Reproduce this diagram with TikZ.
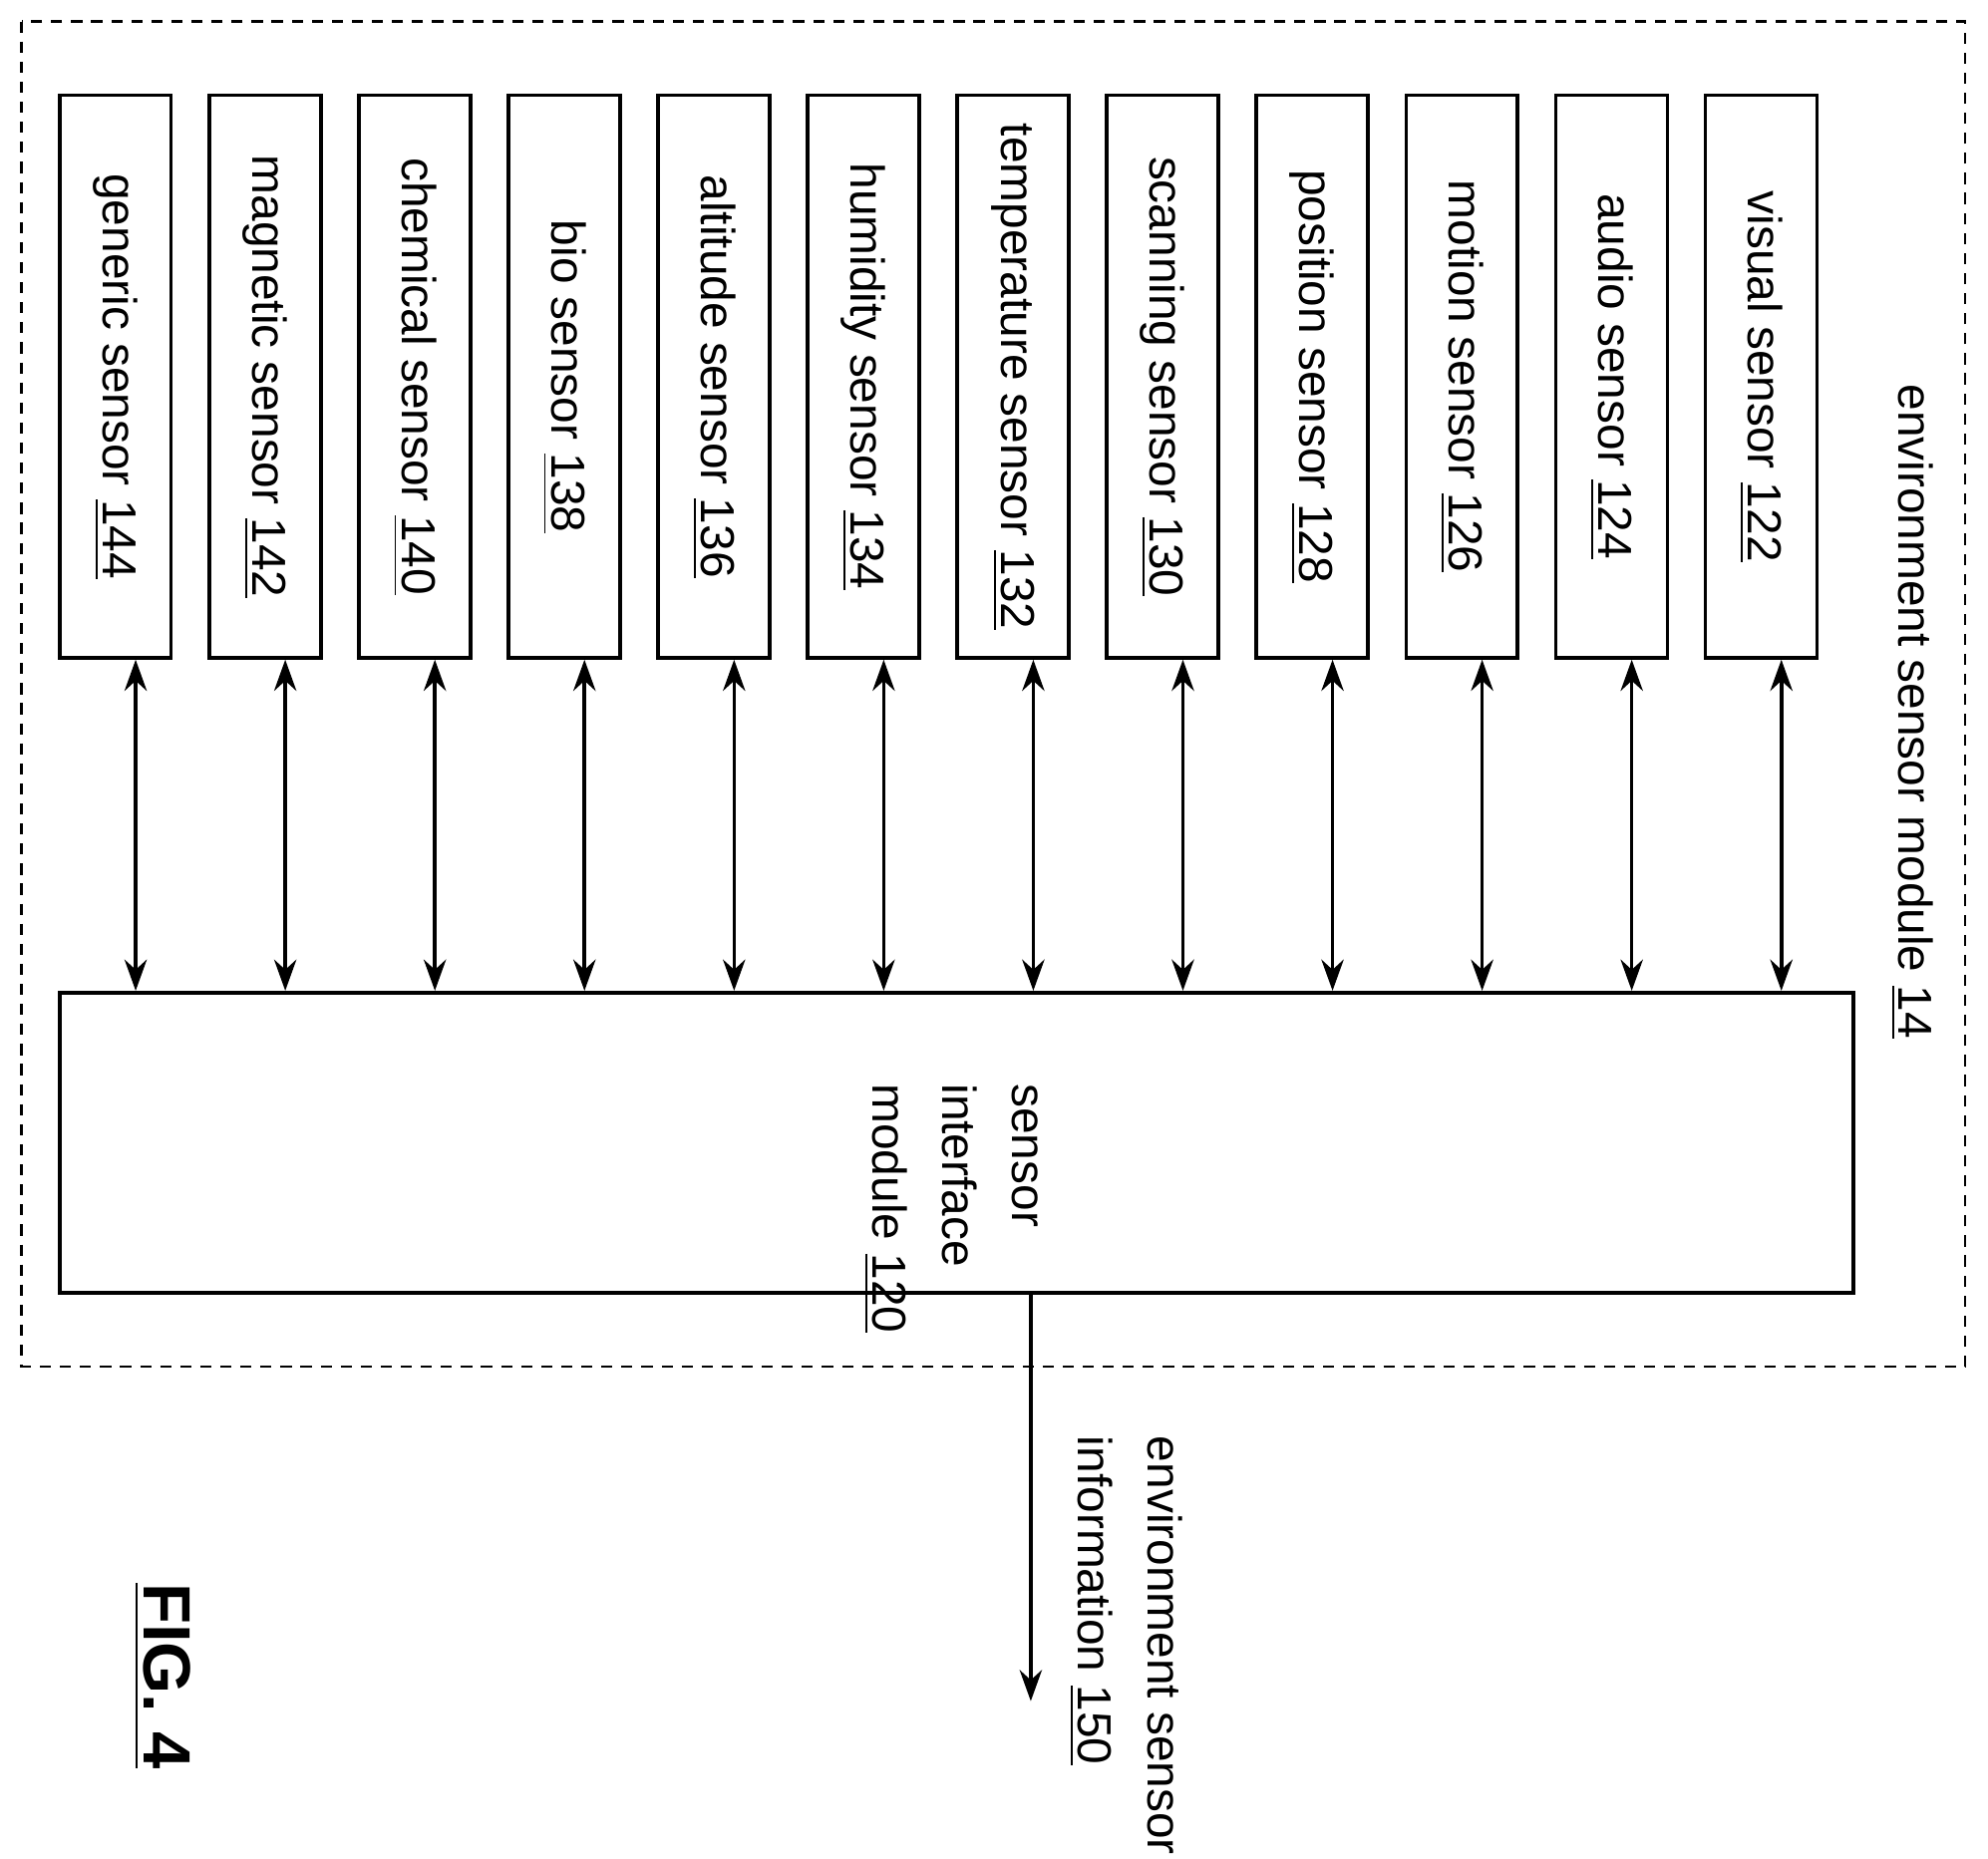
\documentclass[tikz,border=0pt]{standalone}
\usepackage{fontspec}
\setmainfont{Liberation Sans}
\usetikzlibrary{arrows.meta}

\begin{document}
\begin{tikzpicture}[line width=0.8pt,
  box/.style={draw, minimum width=0.88cm, minimum height=4.44cm, inner sep=0pt},
  lbl/.style={rotate=-90, font=\fontsize{10.7}{15.6}\selectfont},
  link/.style={{Stealth[length=7pt,width=5pt]}-{Stealth[length=7pt,width=5pt]}}]
  \useasboundingbox (0,0) rectangle (15.68,-14.66);
  % -=-=-=-=- OUTER MODULE -=-=-=-=-
  \draw[line width=0.6pt, dash pattern=on 2.5pt off 2pt] (0.17,-0.17) rectangle (15.50,-10.78);
  \node[lbl, anchor=west] (esm) at (15.08,-2.9) {environment sensor module \underline{14}};

  % -=-=-=-=- SENSORS -=-=-=-=-
  \node[box] (s144) at (0.91,-2.97) {};
  \node[box] (s142) at (2.09,-2.97) {};
  \node[box] (s140) at (3.27,-2.97) {};
  \node[box] (s138) at (4.45,-2.97) {};
  \node[box] (s136) at (5.63,-2.97) {};
  \node[box] (s134) at (6.81,-2.97) {};
  \node[box] (s132) at (7.99,-2.97) {};
  \node[box] (s130) at (9.17,-2.97) {};
  \node[box] (s128) at (10.35,-2.97) {};
  \node[box] (s126) at (11.53,-2.97) {};
  \node[box] (s124) at (12.71,-2.97) {};
  \node[box] (s122) at (13.89,-2.97) {};

  \node[lbl] (t144) at (s144) {generic sensor \underline{144}};
  \node[lbl] (t142) at (s142) {magnetic sensor \underline{142}};
  \node[lbl] (t140) at (s140) {chemical sensor \underline{140}};
  \node[lbl] (t138) at (s138) {bio sensor \underline{138}};
  \node[lbl] (t136) at (s136) {altitude sensor \underline{136}};
  \node[lbl] (t134) at (s134) {humidity sensor \underline{134}};
  \node[lbl] (t132) at (s132) {temperature sensor \underline{132}};
  \node[lbl] (t130) at (s130) {scanning sensor \underline{130}};
  \node[lbl] (t128) at (s128) {position sensor \underline{128}};
  \node[lbl] (t126) at (s126) {motion sensor \underline{126}};
  \node[lbl] (t124) at (s124) {audio sensor \underline{124}};
  \node[lbl] (t122) at (s122) {visual sensor \underline{122}};

  % -=-=-=-=- INTERFACE -=-=-=-=-
  \node[draw, minimum width=14.15cm, minimum height=2.37cm] (sim) at (7.545,-9.015) {};
  \node[lbl, anchor=west, align=left] (tsim) at (7.50,-8.42) {sensor\\interface\\module \underline{120}};

  \foreach \s in {144,142,140,138,136,134,132,130,128,126,124,122}
    \draw[link] ([xshift=0.16cm]s\s.south) -- ([xshift=0.16cm]s\s.south |- sim.north);

  % -=-=-=-=- OUTPUT -=-=-=-=-
  \coordinate (out) at (8.13,-13.42);
  \draw[-{Stealth[length=7pt,width=5pt]}] (sim.south -| out) -- (out);
  \node[lbl, anchor=west, align=left] (info) at (8.88,-11.2) {environment sensor\\information \underline{150}};

  \node[rotate=-90, font=\fontsize{15}{18}\bfseries] (fig) at (1.28,-13.22) {\underline{FIG. 4}};
\end{tikzpicture}
\end{document}
